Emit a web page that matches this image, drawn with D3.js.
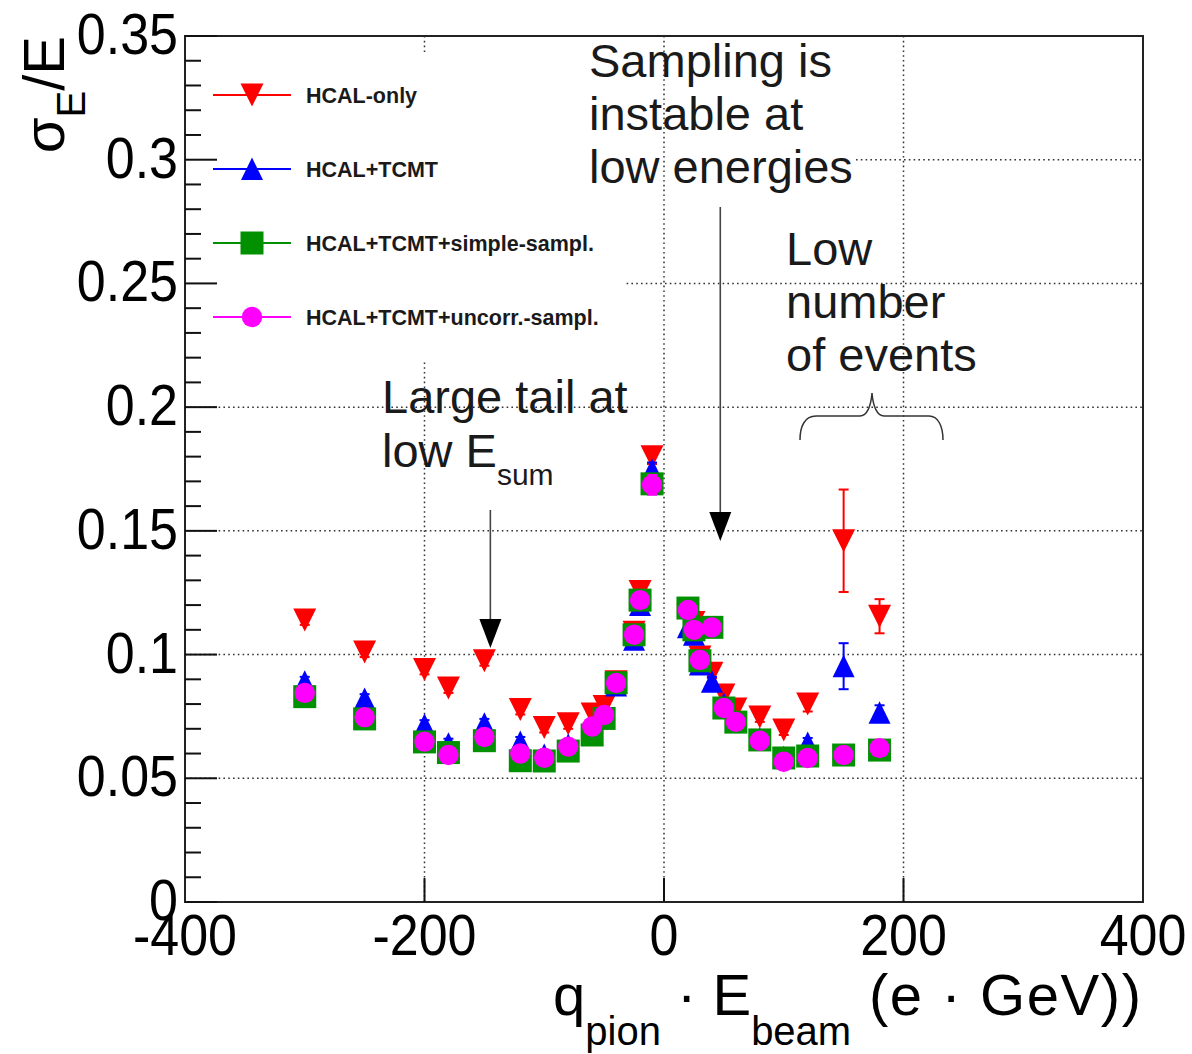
<!DOCTYPE html>
<html>
<head>
<meta charset="utf-8">
<script src="https://cdn.jsdelivr.net/npm/d3@7"></script>
<style>
  body { margin: 0; background: #fff; }
  svg { display: block; }
  text { font-family: "Liberation Sans", Arial, Helvetica, sans-serif; white-space: pre; }
</style>
</head>
<body>
<svg id="chart" width="1192" height="1054"></svg>
<script>
// Beam energy signed by pion charge (e·GeV)
const beamEnergy = [-300, -250, -200, -180, -150, -120, -100, -80, -60, -50, -40, -25, -20, -10,
                    20, 25, 30, 40, 50, 60, 80, 100, 120, 150, 180];

// Relative energy resolution sigma_E / E for each reconstruction
const hcalOnly = [0.114, 0.101, 0.094, 0.0865, 0.0975, 0.0778, 0.0705, 0.072, 0.076, 0.079, 0.089, 0.109, 0.1255, 0.180,
                  0.116, 0.113, 0.099, 0.0925, 0.0837, 0.078, 0.0748, 0.0695, 0.080, 0.146, 0.1155];
const hcalTcmt = [0.089, 0.082, 0.0715, 0.064, 0.072, 0.0647, 0.0594, 0.0635, 0.070, 0.075, 0.0875, 0.106, 0.120, 0.1746,
                  0.111, 0.108, 0.096, 0.089, 0.080, 0.073, 0.066, 0.0585, 0.0643, 0.0953, 0.0765];
const simpleSampl = [0.083, 0.074, 0.0647, 0.0604, 0.0652, 0.0571, 0.057, 0.061, 0.0675, 0.0742, 0.0886, 0.108, 0.122, 0.169,
                     0.1188, 0.110, 0.0975, 0.111, 0.0784, 0.0727, 0.0655, 0.0582, 0.059, 0.0594, 0.0614];
const uncorrSampl = [0.0845, 0.0747, 0.0648, 0.0594, 0.0667, 0.060, 0.0583, 0.0628, 0.0709, 0.0756, 0.0885, 0.108, 0.122, 0.1686,
                     0.118, 0.110, 0.0978, 0.111, 0.0784, 0.0728, 0.0652, 0.0567, 0.0582, 0.0594, 0.0622];

// Statistical uncertainties on sigma_E / E
const hcalOnlyErr = [0.002, 0.002, 0.002, 0.002, 0.002, 0.002, 0.002, 0.002, 0.002, 0.002, 0.002, 0.002, 0.002, 0.003,
                     0.002, 0.002, 0.002, 0.002, 0.002, 0.002, 0.002, 0.002, 0.003, 0.0207, 0.0069];
const hcalTcmtErr = [0.002, 0.002, 0.002, 0.002, 0.002, 0.002, 0.002, 0.002, 0.002, 0.002, 0.002, 0.002, 0.002, 0.003,
                     0.002, 0.002, 0.002, 0.002, 0.002, 0.002, 0.002, 0.002, 0.002, 0.0093, 0.003];
const simpleSamplErr = [0.002, 0.002, 0.002, 0.002, 0.002, 0.002, 0.002, 0.002, 0.002, 0.002, 0.002, 0.002, 0.002, 0.004,
                        0.002, 0.002, 0.002, 0.002, 0.002, 0.002, 0.002, 0.002, 0.002, 0.003, 0.003];
const uncorrSamplErr = [0.002, 0.002, 0.002, 0.002, 0.002, 0.002, 0.002, 0.002, 0.002, 0.002, 0.002, 0.002, 0.002, 0.004,
                        0.002, 0.002, 0.002, 0.002, 0.002, 0.002, 0.002, 0.002, 0.002, 0.003, 0.003];

const seriesNames = ["HCAL-only", "HCAL+TCMT", "HCAL+TCMT+simple-sampl.", "HCAL+TCMT+uncorr.-sampl."];

const xTicks = [-400, -200, 0, 200, 400];
const xTickLabels = ["-400", "-200", "0", "200", "400"];
const yTicks = [0, 0.05, 0.1, 0.15, 0.2, 0.25, 0.3, 0.35];
const yTickLabels = ["0", "0.05", "0.1", "0.15", "0.2", "0.25", "0.3", "0.35"];
const yGridValues = [0.05, 0.1, 0.15, 0.2, 0.25, 0.3];
const xGridValues = [-200, 0, 200];

// ---- layout ----
const svg = d3.select("#chart");
const x = d3.scaleLinear().domain([-400, 400]).range([185, 1143]);
const y = d3.scaleLinear().domain([0, 0.35]).range([902, 36]);
const frameL = x(-400), frameR = x(400), frameT = y(0.35), frameB = y(0);

const series = [
  { name: seriesNames[0], values: hcalOnly,    errors: hcalOnlyErr,    color: "#ff0000", shape: "down" },
  { name: seriesNames[1], values: hcalTcmt,    errors: hcalTcmtErr,    color: "#0000ff", shape: "up" },
  { name: seriesNames[2], values: simpleSampl, errors: simpleSamplErr, color: "#009000", shape: "square" },
  { name: seriesNames[3], values: uncorrSampl, errors: uncorrSamplErr, color: "#ff00ff", shape: "circle" }
];

function markerPath(shape) {
  const s = 11.5;
  if (shape === "down") return `M${-s},${-s}L${s},${-s}L0,${s}Z`;
  if (shape === "up") return `M0,${-s}L${s - 0.5},${s - 0.5}L${-s + 0.5},${s - 0.5}Z`;
  if (shape === "square") return `M${-s},${-s}H${s}V${s}H${-s}Z`;
  const r = 10.2;
  return `M${r},0A${r},${r} 0 1,1 ${-r},0A${r},${r} 0 1,1 ${r},0Z`;
}

// ---- grid (dotted) ----
const grid = svg.append("g").attr("stroke", "#333").attr("stroke-width", 1.5)
  .attr("stroke-dasharray", "1.6,3.2").attr("fill", "none");

grid.selectAll("line.h").data(yGridValues).join("line")
  .attr("class", "h")
  // the 0.3 line is interrupted by the annotation block at the top
  .attr("x1", d => d === 0.3 ? 856 : frameL)
  .attr("x2", frameR)
  .attr("y1", d => y(d)).attr("y2", d => y(d));

grid.selectAll("line.v").data(xGridValues).join("line")
  .attr("class", "v")
  .attr("x1", d => x(d)).attr("x2", d => x(d))
  .attr("y1", frameT).attr("y2", frameB);

// ---- legend (white box over the grid) ----
const legend = svg.append("g");
legend.append("rect").attr("x", frameL + 1).attr("y", 55).attr("width", 440).attr("height", 305).attr("fill", "#fff");
const legendRowY = d3.scalePoint().domain(seriesNames).range([95, 317]);
series.forEach(s => {
  const g = legend.append("g").attr("transform", `translate(0,${legendRowY(s.name)})`);
  g.append("line").attr("x1", 213).attr("x2", 291).attr("y1", 0).attr("y2", 0)
    .attr("stroke", s.color).attr("stroke-width", 2);
  g.append("path").attr("d", markerPath(s.shape)).attr("fill", s.color)
    .attr("transform", "translate(252,0)");
  g.append("text").attr("x", 306).attr("y", 7.5)
    .style("font-size", "21.5px").style("font-weight", "bold").attr("fill", "#1a1a1a")
    .text(s.name);
});

// ---- frame and ticks ----
svg.append("rect").attr("x", frameL).attr("y", frameT)
  .attr("width", frameR - frameL).attr("height", frameB - frameT)
  .attr("fill", "none").attr("stroke", "#222").attr("stroke-width", 2);

const minorY = d3.range(0, 0.3501, 0.01);
svg.append("g").selectAll("line").data(minorY).join("line")
  .attr("x1", frameL).attr("y1", d => y(d)).attr("y2", d => y(d))
  .attr("x2", d => frameL + (Math.abs(d / 0.05 - Math.round(d / 0.05)) < 1e-6 ? 32 : 16))
  .attr("stroke", "#111").attr("stroke-width", 2);

svg.append("g").selectAll("line").data(xGridValues).join("line")
  .attr("x1", d => x(d)).attr("x2", d => x(d))
  .attr("y1", frameB).attr("y2", frameB - 24)
  .attr("stroke", "#111").attr("stroke-width", 2);

// tick labels (Helvetica-style, slightly tall)
svg.append("g").selectAll("text").data(yTicks).join("text")
  .attr("transform", d => `translate(178,${y(d) + 18}) scale(1,1.1)`)
  .attr("text-anchor", "end").style("font-size", "52px").attr("fill", "#000")
  .text((d, i) => yTickLabels[i]);

svg.append("g").selectAll("text").data(xTicks).join("text")
  .attr("transform", d => `translate(${x(d)},955) scale(1,1.1)`)
  .attr("text-anchor", "middle").style("font-size", "52px").attr("fill", "#000")
  .text((d, i) => xTickLabels[i]);

// axis titles
const xt = svg.append("text").attr("x", 553).attr("y", 1015).style("font-size", "58px").attr("fill", "#000");
xt.append("tspan").text("q");
xt.append("tspan").attr("dy", 30).style("font-size", "40px").text("pion");
xt.append("tspan").attr("dy", -30).text(" · E");
xt.append("tspan").attr("dy", 30).style("font-size", "40px").text("beam");
xt.append("tspan").attr("dy", -30).style("letter-spacing", "1.6px").text(" (e · GeV))");

const yt = svg.append("text").attr("transform", "translate(64,36) rotate(-90)")
  .attr("text-anchor", "end").style("font-size", "58px").attr("fill", "#000");
yt.append("tspan").text("σ");
yt.append("tspan").attr("dy", 21).style("font-size", "40px").text("E");
yt.append("tspan").attr("dy", -21).text("/E");

// ---- annotations ----
const note = svg.append("g").attr("fill", "#1a1a1a").style("font-size", "47px");
[["Sampling is", 77], ["instable at", 130], ["low energies", 183]].forEach(([t, b]) =>
  note.append("text").attr("x", 589).attr("y", b).text(t));
[["Low", 265], ["number", 318], ["of events", 371]].forEach(([t, b]) =>
  note.append("text").attr("x", 786).attr("y", b).text(t));
note.append("text").attr("x", 382).attr("y", 413).text("Large tail at");
const lowE = note.append("text").attr("x", 382).attr("y", 467);
lowE.append("tspan").text("low E");
lowE.append("tspan").attr("dy", 18).style("font-size", "30px").text("sum");

const arrows = svg.append("g");
[[x(-145), 510, 648], [x(47), 207, 541]].forEach(([ax, y0, tip]) => {
  arrows.append("line").attr("x1", ax).attr("x2", ax).attr("y1", y0).attr("y2", tip - 26)
    .attr("stroke", "#444").attr("stroke-width", 1.6);
  arrows.append("path").attr("d", `M${ax - 11},${tip - 29}L${ax + 11},${tip - 29}L${ax},${tip}Z`).attr("fill", "#000");
});

// curly brace over the high-energy points
svg.append("path")
  .attr("d", "M800,440 C800,426 805,416 816,416 L860,416 C867,416 871,406 872,393 C873,406 877,416 884,416 L929,416 C938,416 943,426 943,440")
  .attr("fill", "none").attr("stroke", "#333").attr("stroke-width", 1.5);

// ---- data: error bars then markers, series drawn in legend order ----
const dataLayer = svg.append("g");
series.forEach(s => {
  const pts = beamEnergy.map((e, i) => ({ e, v: s.values[i], err: s.errors[i] }));
  const g = dataLayer.append("g");
  const eb = g.append("g").attr("stroke", s.color).attr("stroke-width", 2);
  pts.forEach(p => {
    const cx = x(p.e), top = y(p.v + p.err), bot = y(p.v - p.err);
    eb.append("line").attr("x1", cx).attr("x2", cx).attr("y1", top).attr("y2", bot);
    eb.append("line").attr("x1", cx - 5).attr("x2", cx + 5).attr("y1", top).attr("y2", top);
    eb.append("line").attr("x1", cx - 5).attr("x2", cx + 5).attr("y1", bot).attr("y2", bot);
  });
  g.selectAll("path").data(pts).join("path")
    .attr("d", markerPath(s.shape))
    .attr("transform", p => `translate(${x(p.e)},${y(p.v)})`)
    .attr("fill", s.color);
});
</script>
</body>
</html>
